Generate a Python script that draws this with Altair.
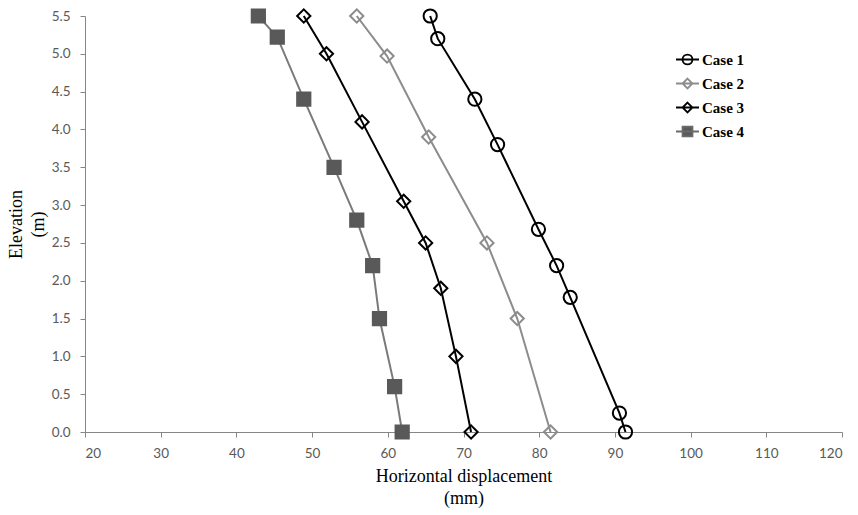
import altair as alt
import pandas as pd

cases = ["Case 1", "Case 2", "Case 3", "Case 4"]

case1_disp = [91.4, 90.6, 84.1, 82.3, 79.9, 74.5, 71.5, 66.6, 65.6]
case1_elev = [0.0, 0.25, 1.78, 2.2, 2.68, 3.8, 4.4, 5.2, 5.5]
case2_disp = [81.5, 77.1, 73.1, 65.4, 59.9, 55.9]
case2_elev = [0.0, 1.5, 2.5, 3.9, 4.97, 5.5]
case3_disp = [71.0, 69.0, 67.0, 65.0, 62.1, 56.6, 51.9, 48.9]
case3_elev = [0.0, 1.0, 1.9, 2.5, 3.05, 4.1, 5.0, 5.5]
case4_disp = [61.9, 60.9, 58.9, 58.0, 55.9, 52.9, 48.9, 45.4, 42.9]
case4_elev = [0.0, 0.6, 1.5, 2.2, 2.8, 3.5, 4.4, 5.22, 5.5]

x_ticks = [20, 30, 40, 50, 60, 70, 80, 90, 100, 110, 120]
y_ticks = [0.0, 0.5, 1.0, 1.5, 2.0, 2.5, 3.0, 3.5, 4.0, 4.5, 5.0, 5.5]

rows = []
for name, xs, ys in zip(cases,
                        [case1_disp, case2_disp, case3_disp, case4_disp],
                        [case1_elev, case2_elev, case3_elev, case4_elev]):
    for i, (xv, yv) in enumerate(zip(xs, ys)):
        rows.append({"case": name, "disp": xv, "elev": yv, "idx": i})
df = pd.DataFrame(rows)

# styles
line_colors = ["#000000", "#8c8c8c", "#000000", "#7a7a7a"]
marker_stroke = ["#000000", "#8c8c8c", "#000000", "#595959"]
marker_fill = ["transparent", "transparent", "transparent", "#595959"]
plot_shapes = ["circle", "diamond", "diamond", "square"]
legend_stroke = ["#000000", "#8c8c8c", "#000000", "#6a6a6a"]
legend_shapes = [
    "M-1,0L1,0M0.43,0A0.43,0.43,0,1,1,-0.43,0A0.43,0.43,0,1,1,0.43,0Z",
    "M-1,0L1,0M0,-0.43L0.43,0L0,0.43L-0.43,0Z",
    "M-1,0L1,0M0,-0.43L0.43,0L0,0.43L-0.43,0Z",
    "M-1,0L1,0M-0.43,-0.43L0.43,-0.43L0.43,0.43L-0.43,0.43Z",
]

x_enc = alt.X(
    "disp:Q",
    scale=alt.Scale(domain=[20, 120], nice=False, zero=False),
    axis=alt.Axis(values=x_ticks, title=["Horizontal displacement", "(mm)"],
                  tickSize=5, labelPadding=9, titlePadding=8),
)
y_enc = alt.Y(
    "elev:Q",
    scale=alt.Scale(domain=[0, 5.5], nice=False, zero=False),
    axis=alt.Axis(values=y_ticks, format=".1f", title=["Elevation", "(m)"],
                  tickSize=5, labelPadding=10, titlePadding=4),
)

base = alt.Chart(df)

lines = base.mark_line(strokeWidth=2).encode(
    x=x_enc, y=y_enc,
    color=alt.Color("case:N", scale=alt.Scale(domain=cases, range=line_colors), legend=None),
    order=alt.Order("idx:Q"),
)

points = base.mark_point(opacity=1, fillOpacity=1, strokeWidth=2, size=175).encode(
    x=x_enc, y=y_enc,
    stroke=alt.Stroke("case:N", scale=alt.Scale(domain=cases, range=marker_stroke), legend=None),
    fill=alt.Fill("case:N", scale=alt.Scale(domain=cases, range=marker_fill), legend=None),
    shape=alt.Shape("case:N", scale=alt.Scale(domain=cases, range=plot_shapes), legend=None),
)

leg = alt.Legend(
    title=None, orient="none", legendX=590, legendY=31,
    labelFont="Liberation Serif", labelFontWeight="bold", labelFontSize=15,
    labelColor="#000000", symbolSize=529, symbolStrokeWidth=1.8,
    rowPadding=2, labelOffset=2,
)

legend_layer = base.transform_filter("false").mark_point(
    opacity=1, fillOpacity=1, strokeWidth=1.8
).encode(
    x=x_enc, y=y_enc,
    stroke=alt.Stroke("case:N", scale=alt.Scale(domain=cases, range=legend_stroke), legend=leg),
    fill=alt.Fill("case:N", scale=alt.Scale(domain=cases, range=marker_fill), legend=leg),
    shape=alt.Shape("case:N", scale=alt.Scale(domain=cases, range=legend_shapes), legend=leg),
)

chart = alt.layer(lines, points, legend_layer).resolve_scale(
    stroke="independent", fill="independent", shape="independent"
).properties(
    width=757, height=416,
    autosize=alt.AutoSizeParams(type="none"),
    padding={"left": 85, "top": 16, "right": 16, "bottom": 83},
).configure_view(stroke=None).configure_axis(
    grid=False,
    domainColor="#868686", tickColor="#868686", domainWidth=1,
    labelFont="Lato", labelFontSize=13.5, labelColor="#595959",
    titleFont="Liberation Serif", titleFontSize=18, titleFontWeight="normal",
    titleColor="#000000", titleLineHeight=22,
)

chart.save("out.html", embed_options={"renderer": "svg", "actions": False})
